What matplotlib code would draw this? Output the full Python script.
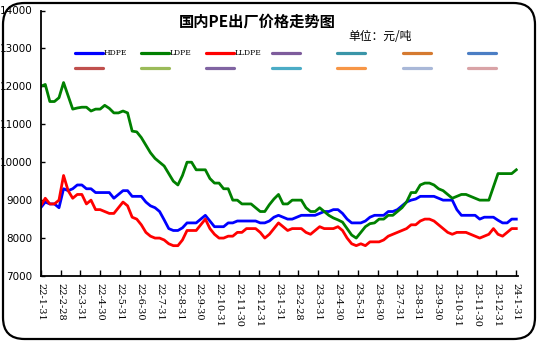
import matplotlib
matplotlib.use("Agg")
import matplotlib.pyplot as plt
from matplotlib.lines import Line2D
from matplotlib.patches import FancyBboxPatch
import numpy as np

plt.rcParams['font.family'] = ['Noto Sans CJK SC', 'DejaVu Sans']

month_labels = ["22-1-31", "22-2-28", "22-3-31", "22-4-30", "22-5-31", "22-6-30",
                "22-7-31", "22-8-31", "22-9-30", "22-10-31", "22-11-30", "22-12-31",
                "23-1-31", "23-2-28", "23-3-31", "23-4-30", "23-5-31", "23-6-30",
                "23-7-31", "23-8-31", "23-9-30", "23-10-31", "23-11-30", "23-12-31",
                "24-1-31"]

hdpe = [8800, 8950, 8900, 8900, 8800, 9300, 9250, 9300, 9400, 9400,
        9300, 9300, 9200, 9200, 9200, 9200, 9050, 9150, 9250, 9250,
        9100, 9100, 9100, 8950, 8850, 8800, 8700, 8480, 8250, 8200,
        8200, 8270, 8400, 8400, 8400, 8500, 8600, 8450, 8300, 8300,
        8300, 8400, 8400, 8450, 8450, 8450, 8450, 8450, 8400, 8400,
        8450, 8550, 8600, 8550, 8500, 8500, 8550, 8600, 8600, 8600,
        8600, 8650, 8700, 8700, 8750, 8750, 8650, 8500, 8400, 8400,
        8400, 8450, 8550, 8600, 8600, 8600, 8700, 8700, 8750, 8850,
        8950, 9000, 9030, 9100, 9100, 9100, 9100, 9050, 9000, 9000,
        9000, 8750, 8600, 8600, 8600, 8600, 8500, 8550, 8550, 8550,
        8470, 8400, 8400, 8500, 8500]

ldpe = [12000, 12050, 11600, 11600, 11700, 12100, 11750, 11400, 11430, 11450,
        11450, 11350, 11400, 11400, 11500, 11420, 11300, 11300, 11350, 11300,
        10820, 10800, 10650, 10450, 10250, 10100, 10000, 9900, 9700, 9500,
        9400, 9650, 10000, 10000, 9800, 9800, 9800, 9570, 9450, 9450,
        9300, 9300, 9000, 9000, 8900, 8900, 8900, 8800, 8700, 8700,
        8880, 9030, 9150, 8900, 8900, 9000, 9000, 9000, 8800, 8700,
        8700, 8800, 8700, 8600, 8530, 8480, 8420, 8250, 8080, 8000,
        8150, 8300, 8380, 8400, 8500, 8500, 8600, 8600, 8700, 8800,
        8950, 9200, 9200, 9400, 9450, 9450, 9400, 9300, 9250, 9150,
        9050, 9100, 9150, 9150, 9100, 9050, 9000, 9000, 9000, 9350,
        9700, 9700, 9700, 9700, 9800]

lldpe = [8850, 9050, 8900, 8900, 9000, 9650, 9250, 9050, 9150, 9150,
         8900, 9000, 8750, 8750, 8700, 8650, 8650, 8800, 8950, 8850,
         8550, 8500, 8350, 8150, 8050, 8000, 8000, 7950, 7850, 7800,
         7800, 7950, 8200, 8200, 8200, 8350, 8500, 8250, 8100, 8000,
         8000, 8050, 8050, 8150, 8150, 8250, 8250, 8250, 8150, 8000,
         8100, 8250, 8400, 8300, 8200, 8250, 8250, 8250, 8150, 8100,
         8200, 8300, 8250, 8250, 8250, 8300, 8200, 8000, 7850, 7800,
         7850, 7800, 7900, 7900, 7900, 7950, 8050, 8100, 8150, 8200,
         8250, 8350, 8350, 8450, 8500, 8500, 8450, 8350, 8250, 8150,
         8100, 8150, 8150, 8150, 8100, 8050, 8000, 8050, 8100, 8250,
         8100, 8050, 8150, 8250, 8250]

series_names = ["HDPE", "LDPE", "LLDPE"]
series_colors = ["#0000FF", "#008000", "#FF0000"]
extra_colors_row1 = ["#7E5C9C", "#3A95A8", "#D57A30", "#4B7EC4"]
extra_colors_row2 = ["#C0504D", "#9BBB59", "#8064A2", "#4BACC6", "#F79646", "#A9B8D8", "#D9A3A6"]

W, H = 538, 342
fig = plt.figure(figsize=(W / 100, H / 100), dpi=100)

ax = fig.add_axes([40.7 / W, 1 - 276 / H, (518 - 40.7) / W, (276 - 10.5) / H])
n = len(hdpe)
x = np.arange(n)
for vals, name, col in zip([hdpe, ldpe, lldpe], series_names, series_colors):
    ax.plot(x, vals, color=col, lw=2.0, solid_joinstyle='round', label=name)

ax.set_ylim(7000, 14000)
ax.set_yticks(np.arange(7000, 14001, 1000))
ax.set_xlim(0, (518 - 40.7) / ((516.3 - 40.7) / (n - 1)))
step = (n - 1) / (len(month_labels) - 1)
ax.set_xticks([i * step for i in range(len(month_labels))])
ax.set_xticklabels(month_labels, rotation=270, fontsize=7, family='DejaVu Serif')
ax.tick_params(axis='y', direction='in', length=3, labelsize=7.5, pad=6, width=1)
ax.tick_params(axis='x', direction='in', length=4, pad=5, width=1)
for s in ['top', 'right']:
    ax.spines[s].set_visible(False)
for s in ['left', 'bottom']:
    ax.spines[s].set_linewidth(1.3)

for lab in ax.get_yticklabels():
    lab.set_family('DejaVu Sans')

fig.text(257 / W, 1 - 22 / H, "国内PE出厂价格走势图", ha='center', va='center',
         fontsize=11, fontweight='bold')
fig.text(380 / W, 1 - 37 / H, "单位：元/吨", ha='center', va='center', fontsize=8.5)

# legend (drawn as a fixed grid, like the spreadsheet legend)
row1_colors = series_colors + extra_colors_row1
row1_labels = series_names + ["", "", "", ""]
leg_x0, leg_pitch, leg_len = 75, 65.5, 28
for r, (cols, labs, yy) in enumerate([(row1_colors, row1_labels, 53),
                                       (extra_colors_row2, [""] * 7, 68)]):
    for i, (c, lab) in enumerate(zip(cols, labs)):
        xs = leg_x0 + i * leg_pitch
        fig.add_artist(Line2D([xs / W, (xs + leg_len) / W], [1 - yy / H, 1 - yy / H],
                              color=c, lw=2.3, transform=fig.transFigure,
                              solid_capstyle='round'))
        if lab:
            fig.text((xs + leg_len + 1) / W, 1 - yy / H, lab, ha='left', va='center',
                     fontsize=5.5, family='DejaVu Serif')

border = FancyBboxPatch((3 / W, 3 / H), 1 - 6 / W, 1 - 6 / H,
                        boxstyle="round,pad=0,rounding_size=0.04",
                        transform=fig.transFigure, fill=False, ec='black', lw=1.6,
                        mutation_aspect=W / H)
fig.patches.append(border)

fig.savefig("out.png", dpi=100)
